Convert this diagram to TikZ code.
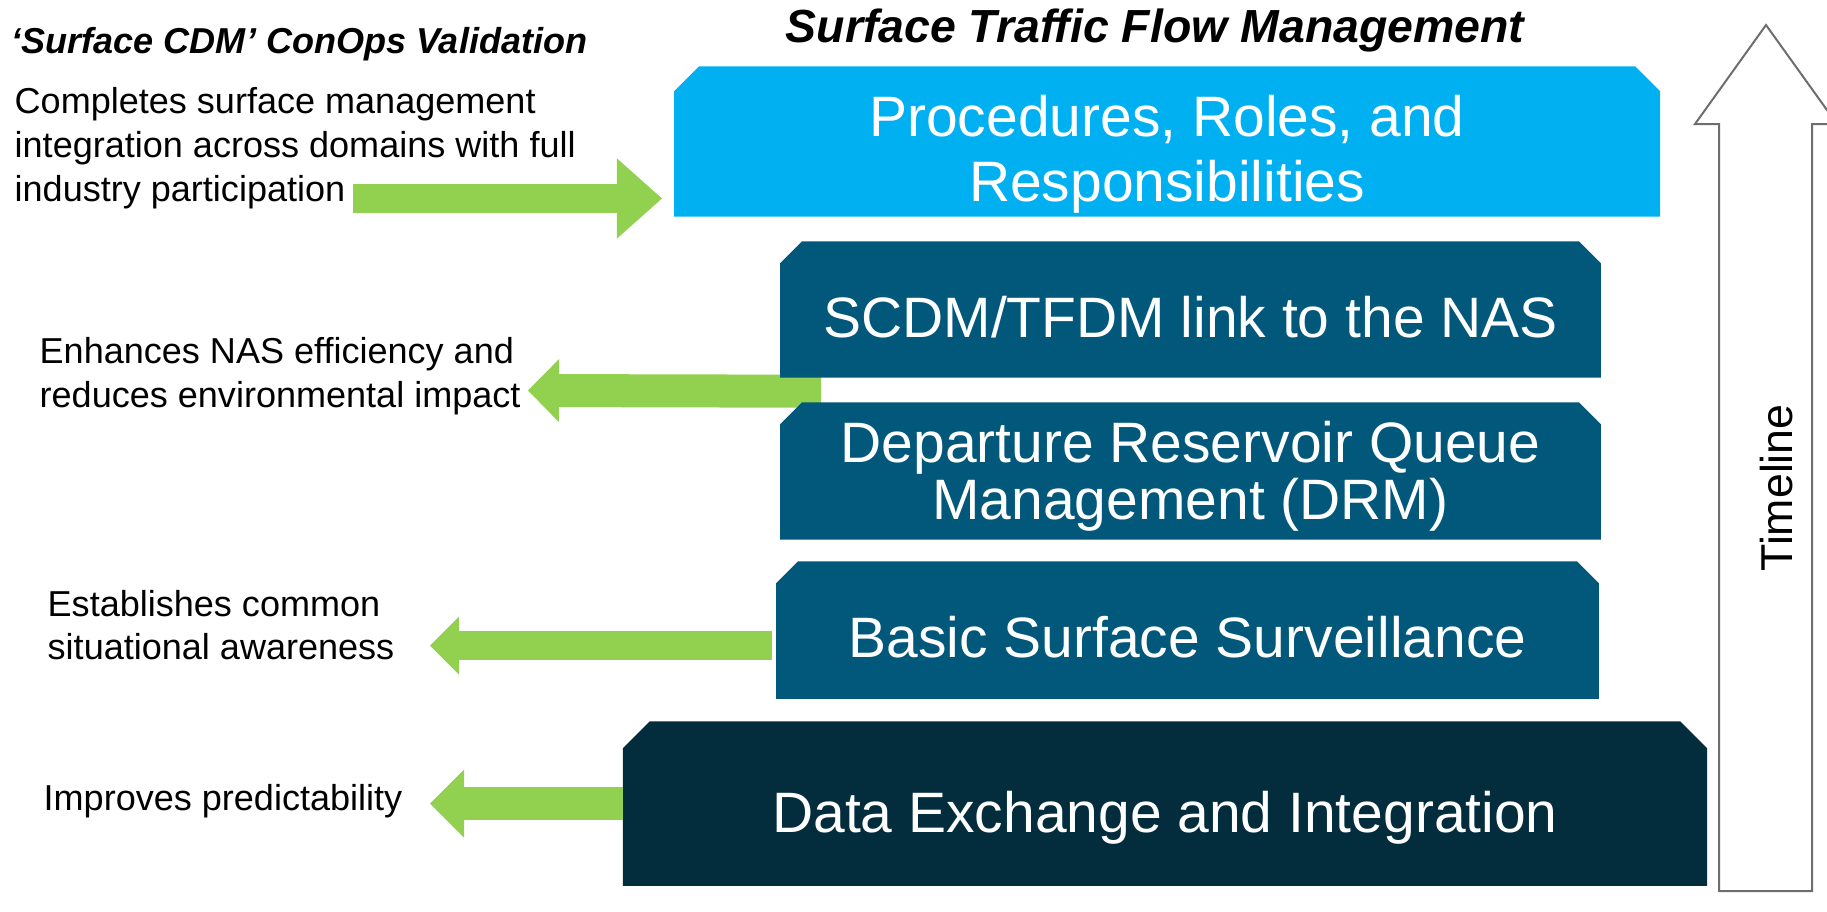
\documentclass[tikz,border=0pt]{standalone}
\usepackage{fontspec}
\setmainfont{Liberation Sans}
\usetikzlibrary{arrows.meta,calc}

\definecolor{procblue}{HTML}{00B0F0}
\definecolor{layerteal}{HTML}{02587A}
\definecolor{layerdark}{HTML}{032D3D}
\definecolor{arrowgreen}{HTML}{92D050}
\definecolor{linegray}{HTML}{6E6E6E}

\tikzset{
  stackbox/.style = {rectangle, inner sep=0pt, draw=none},% one layer of the stack, filled later
  stacktext/.style = {white, align=center, anchor=base, inner sep=0pt,
    font=\fontsize{16.2}{18.2}\selectfont},
  sidenote/.style = {align=left, anchor=base west, inner sep=0pt,
    font=\fontsize{10.25}{12.4}\selectfont},
  heading/.style = {inner sep=0pt, font=\bfseries\itshape\fontsize{10.25}{12}\selectfont},
  greenarrow/.style = {draw=arrowgreen, line width=0.31cm,
    -{Triangle[width=0.62cm,length=0.31cm,line width=0pt]}}
}

\begin{document}
\begin{tikzpicture}[x=0.01cm, y=-0.01cm]
  \useasboundingbox (0,0) rectangle (1827,912);
  \fill[white] (0,0) rectangle (1827,912);

  % headings
  \node[heading, anchor=base west] (valtitle) at (11,53) {‘Surface CDM’ ConOps Validation};
  \node[heading, anchor=base, font=\bfseries\itshape\fontsize{13.2}{15}\selectfont]
    (stfmtitle) at (1155,42) {Surface Traffic Flow Management};

  % the stack
  \node[stackbox, minimum width=9.84cm, minimum height=1.49cm] (procbox) at (1167,141.5) {};
  \node[stackbox, minimum width=8.19cm, minimum height=1.35cm] (linkbox) at (1190.5,309.5) {};
  \node[stackbox, minimum width=8.19cm, minimum height=1.36cm] (drmbox) at (1190.5,471) {};
  \node[stackbox, minimum width=8.21cm, minimum height=1.36cm] (survbox) at (1187.5,630) {};
  \node[stackbox, minimum width=10.82cm, minimum height=1.63cm] (databox) at (1165,803.5) {};

  \coordinate (a2t) at (528,390.5);
  \draw[greenarrow, line width=0.33cm, -{Triangle[width=0.63cm,length=0.31cm,line width=0pt]}]
    ($(linkbox.south west)+(41,13.5)$) -- (a2t);

  \foreach \bx/\bcol/\bcut in {procbox/procblue/25, linkbox/layerteal/22, drmbox/layerteal/22,
                               survbox/layerteal/22, databox/layerdark/27}
    \fill[\bcol] (\bx.south west) -- ($(\bx.north west)+(0,\bcut)$) -- ($(\bx.north west)+(\bcut,0)$)
      -- ($(\bx.north east)+(-\bcut,0)$) -- ($(\bx.north east)+(0,\bcut)$) -- (\bx.south east) -- cycle;

  \node[stacktext] (proctext) at (1167,201) {Procedures, Roles, and\\Responsibilities};
  \node[stacktext] (linktext) at (1190.5,337) {SCDM/TFDM link to the NAS};
  \node[stacktext, font=\fontsize{16.2}{15.1}\selectfont] (drmtext) at (1190.5,519)
    {Departure Reservoir Queue\\Management (DRM)};
  \node[stacktext] (survtext) at (1187.5,657) {Basic Surface Surveillance};
  \node[stacktext] (datatext) at (1165,832) {Data Exchange and Integration};

  % benefits on the left
  \node[sidenote] (compltext) at (14,201)
    {Completes surface management\\integration across domains with full\\industry participation};
  \node[sidenote] (enhtext) at (39,407)
    {Enhances NAS efficiency and\\reduces environmental impact};
  \node[sidenote, font=\fontsize{10.25}{12}\selectfont] (esttext) at (47,659)
    {Establishes common\\situational awareness};
  \node[sidenote] (imptext) at (43,810) {Improves predictability};

  \coordinate (a1s) at (353,198.5);
  \draw[greenarrow, line width=0.29cm, -{Triangle[width=0.8cm,length=0.45cm,line width=0pt]}]
    (a1s) -- ($(procbox.west |- a1s)+(-12,0)$);

  \coordinate (a3t) at (430,645.5);
  \draw[greenarrow, line width=0.29cm, -{Triangle[width=0.58cm,length=0.29cm,line width=0pt]}]
    ($(survbox.west)+(-4,15.5)$) -- (a3t);

  \coordinate (a4t) at (430,803.5);
  \draw[greenarrow, line width=0.33cm, -{Triangle[width=0.68cm,length=0.34cm,line width=0pt]}]
    (databox.west) -- (a4t);

  % timeline arrow
  \draw[linegray, line width=0.02cm, fill=white]
    (1719,891) -- (1719,124) -- (1695,124) -- (1766,25) -- (1837,124)
    -- (1812,124) -- (1812,891) -- cycle;
  \node[rotate=90, anchor=base, inner sep=0pt, font=\fontsize{12.7}{14}\selectfont]
    (timeline) at (1792,488) {Timeline};
\end{tikzpicture}
\end{document}
